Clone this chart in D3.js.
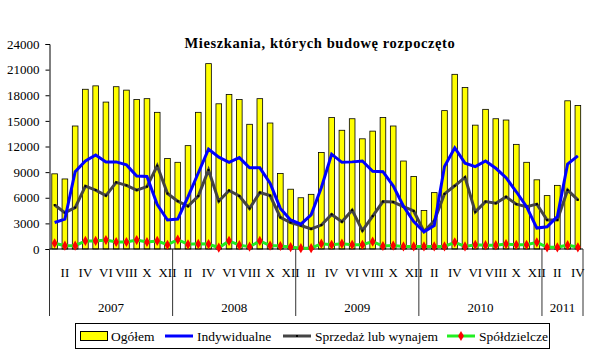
<!DOCTYPE html>
<html>
<head>
<meta charset="utf-8">
<script src="https://cdn.jsdelivr.net/npm/d3@7"></script>
<style>
  body { margin: 0; background: #fff; }
  svg { display: block; }
  text { font-family: 'Liberation Serif', 'Times New Roman', serif; }
</style>
</head>
<body>
<svg width="600" height="352"></svg>
<script>
// dane: miesiące od I 2007 do IV 2011
const years = ["2007", "2008", "2009", "2010", "2011"];
const monthsPerYear = [12, 12, 12, 12, 4];
const romanMonths = ["I", "II", "III", "IV", "V", "VI", "VII", "VIII", "IX", "X", "XI", "XII"];
const yTicks = [0, 3000, 6000, 9000, 12000, 15000, 18000, 21000, 24000];

const ogolem = [
   8800, 8200, 14400, 18700, 19100, 17200, 19000, 18600, 17500, 17600, 16000, 10600,
   10150, 12100, 16000, 21700, 17000, 18100, 17500, 14600, 17600, 14750, 8850, 7000,
   6000, 6400, 11300, 15400, 13900, 15250, 12900, 13800, 15400, 14400, 10300, 8500,
   4500, 6600, 16200, 20450, 18900, 14500, 16350, 15250, 15100, 12250, 10150, 8100,
   6250, 7450, 17350, 16800
];
const indywidualne = [
   3100, 3500, 9050, 10300, 11000, 10200, 10200, 9850, 8550, 8500, 5200, 3400,
   3500, 6100, 8900, 11700, 10750, 10150, 10700, 9500, 9500, 7700, 4750, 3400,
   2900, 4000, 7200, 11100, 10150, 10200, 10300, 9100, 9050, 7400, 5000, 3200,
   2000, 2750, 9650, 11850, 10050, 9650, 10300, 9450, 8350, 6700, 4950, 2450,
   2600, 3800, 9950, 10900
];
const sprzedaz = [
   5150, 4250, 4850, 7350, 6900, 6250, 7800, 7450, 6900, 7300, 9750, 6500,
   5600, 5000, 6200, 9250, 5600, 6850, 6200, 4750, 6600, 6250, 3700, 3100,
   2750, 2350, 2800, 4050, 3200, 4550, 2150, 3850, 5550, 5500, 4950, 4450,
   2050, 3300, 6450, 7400, 8400, 4350, 5550, 5350, 6100, 5250, 4950, 5250,
   3400, 3400, 6900, 5750
];
const spoldzielcze = [
   670, 390, 390, 940, 940, 1050, 820, 820, 1050, 820, 940, 500,
   1100, 550, 600, 580, 150, 940, 450, 270, 940, 400, 350, 230,
   100, 100, 620, 500, 620, 500, 500, 860, 350, 400, 300, 300,
   300, 300, 300, 780, 300, 500, 450, 450, 580, 500, 500, 780,
   200, 200, 450, 200
];

const svg = d3.select("svg");
const area = { left: 49.5, right: 583, top: 44, bottom: 249 };

const idx = d3.range(ogolem.length);
const scX = d3.scaleBand()
   .domain(idx)
   .range([area.left, area.right])
   .paddingInner(0.45)
   .paddingOuter(0.225);
const scY = d3.scaleLinear()
   .domain([0, 24000])
   .range([area.bottom, area.top]);
const cx = i => scX(i) + scX.bandwidth() / 2;

// tytuł
svg.append("text")
   .attr("x", 320)
   .attr("y", 48)
   .attr("text-anchor", "middle")
   .style("font-size", "14.5px")
   .style("font-weight", "bold")
   .style("letter-spacing", "0.6px")
   .text("Mieszkania, których budowę rozpoczęto");

// oś Y
const axisY = d3.axisLeft(scY)
   .tickValues(yTicks)
   .tickSize(4)
   .tickPadding(6)
   .tickFormat(d3.format("d"));
const gY = svg.append("g")
   .attr("transform", `translate(${area.left}, 0)`)
   .call(axisY)
   .attr("font-family", null)
   .attr("font-size", null);
gY.select(".domain").attr("stroke", "#000");
gY.selectAll("text")
   .style("font-size", "13px")
   .attr("fill", "#000");

// słupki
svg.append("g").selectAll("rect")
   .data(ogolem)
   .enter()
   .append("rect")
   .attr("x", (d, i) => scX(i))
   .attr("y", d => scY(d))
   .attr("width", scX.bandwidth())
   .attr("height", d => scY(0) - scY(d))
   .attr("fill", "#ffff00")
   .attr("stroke", "#000")
   .attr("stroke-width", 0.8);

// oś kategorii
svg.append("line")
   .attr("x1", area.left).attr("x2", area.right)
   .attr("y1", scY(0)).attr("y2", scY(0))
   .attr("stroke", "#000");

let start = 0;
const yearBounds = [0];
monthsPerYear.forEach(n => { start += n; yearBounds.push(start); });
const boundX = b => b < ogolem.length ? scX(b) - scX.step() * 0.225 : area.right;

svg.append("g").selectAll("line")
   .data(yearBounds)
   .enter()
   .append("line")
   .attr("x1", d => boundX(d))
   .attr("x2", d => boundX(d))
   .attr("y1", scY(0))
   .attr("y2", 316)
   .attr("stroke", "#333");

svg.append("g").selectAll("text")
   .data(idx.filter(i => i % 12 % 2 == 1))
   .enter()
   .append("text")
   .attr("x", i => cx(i))
   .attr("y", 277)
   .attr("text-anchor", "middle")
   .style("font-size", "13px")
   .text(i => romanMonths[i % 12]);

svg.append("g").selectAll("text")
   .data(years)
   .enter()
   .append("text")
   .attr("x", (d, k) => (boundX(yearBounds[k]) + boundX(yearBounds[k + 1])) / 2)
   .attr("y", 312)
   .attr("text-anchor", "middle")
   .style("font-size", "13px")
   .text(d => d);

// linie
const line = d3.line().x((d, i) => cx(i)).y(d => scY(d));

svg.append("path")
   .datum(spoldzielcze)
   .attr("d", line)
   .attr("fill", "none")
   .attr("stroke", "#22ee22")
   .attr("stroke-width", 3);

svg.append("path")
   .datum(sprzedaz)
   .attr("d", line)
   .attr("fill", "none")
   .attr("stroke", "#444")
   .attr("stroke-width", 3);

svg.append("g").selectAll("rect")
   .data(sprzedaz)
   .enter()
   .append("rect")
   .attr("x", (d, i) => cx(i) - 1)
   .attr("y", d => scY(d) - 1)
   .attr("width", 2)
   .attr("height", 2)
   .attr("fill", "#000");

svg.append("path")
   .datum(indywidualne)
   .attr("d", line)
   .attr("fill", "none")
   .attr("stroke", "#0000ff")
   .attr("stroke-width", 3);

const diamond = d3.symbol().type(d3.symbolDiamond).size(30);
svg.append("g").selectAll("path")
   .data(spoldzielcze)
   .enter()
   .append("path")
   .attr("d", diamond)
   .attr("transform", (d, i) => `translate(${cx(i)}, ${scY(d)})`)
   .attr("fill", "#ff0000");

// legenda
const leg = svg.append("g");
leg.append("rect")
   .attr("x", 75.5).attr("y", 323.5)
   .attr("width", 474).attr("height", 25)
   .attr("fill", "#fff")
   .attr("stroke", "#000");

const ly = 336;
leg.append("rect")
   .attr("x", 80.5).attr("y", 331.5)
   .attr("width", 27).attr("height", 9)
   .attr("fill", "#ffff00")
   .attr("stroke", "#000");
leg.append("line")
   .attr("x1", 165).attr("x2", 193).attr("y1", ly).attr("y2", ly)
   .attr("stroke", "#0000ff").attr("stroke-width", 3);
leg.append("line")
   .attr("x1", 283).attr("x2", 311).attr("y1", ly).attr("y2", ly)
   .attr("stroke", "#444").attr("stroke-width", 3);
leg.append("rect")
   .attr("x", 296).attr("y", ly - 1).attr("width", 2).attr("height", 2)
   .attr("fill", "#000");
leg.append("line")
   .attr("x1", 447).attr("x2", 475).attr("y1", ly).attr("y2", ly)
   .attr("stroke", "#22ee22").attr("stroke-width", 3);
leg.append("path")
   .attr("d", diamond)
   .attr("transform", `translate(461, ${ly})`)
   .attr("fill", "#ff0000");

const legendText = [
   { x: 111, label: "Ogółem" },
   { x: 197, label: "Indywidualne" },
   { x: 315, label: "Sprzedaż lub wynajem" },
   { x: 479, label: "Spółdzielcze" }
];
leg.selectAll("text.lt")
   .data(legendText)
   .enter()
   .append("text")
   .attr("class", "lt")
   .attr("x", d => d.x)
   .attr("y", ly + 5)
   .style("font-size", "13.5px")
   .text(d => d.label);
</script>
</body>
</html>
